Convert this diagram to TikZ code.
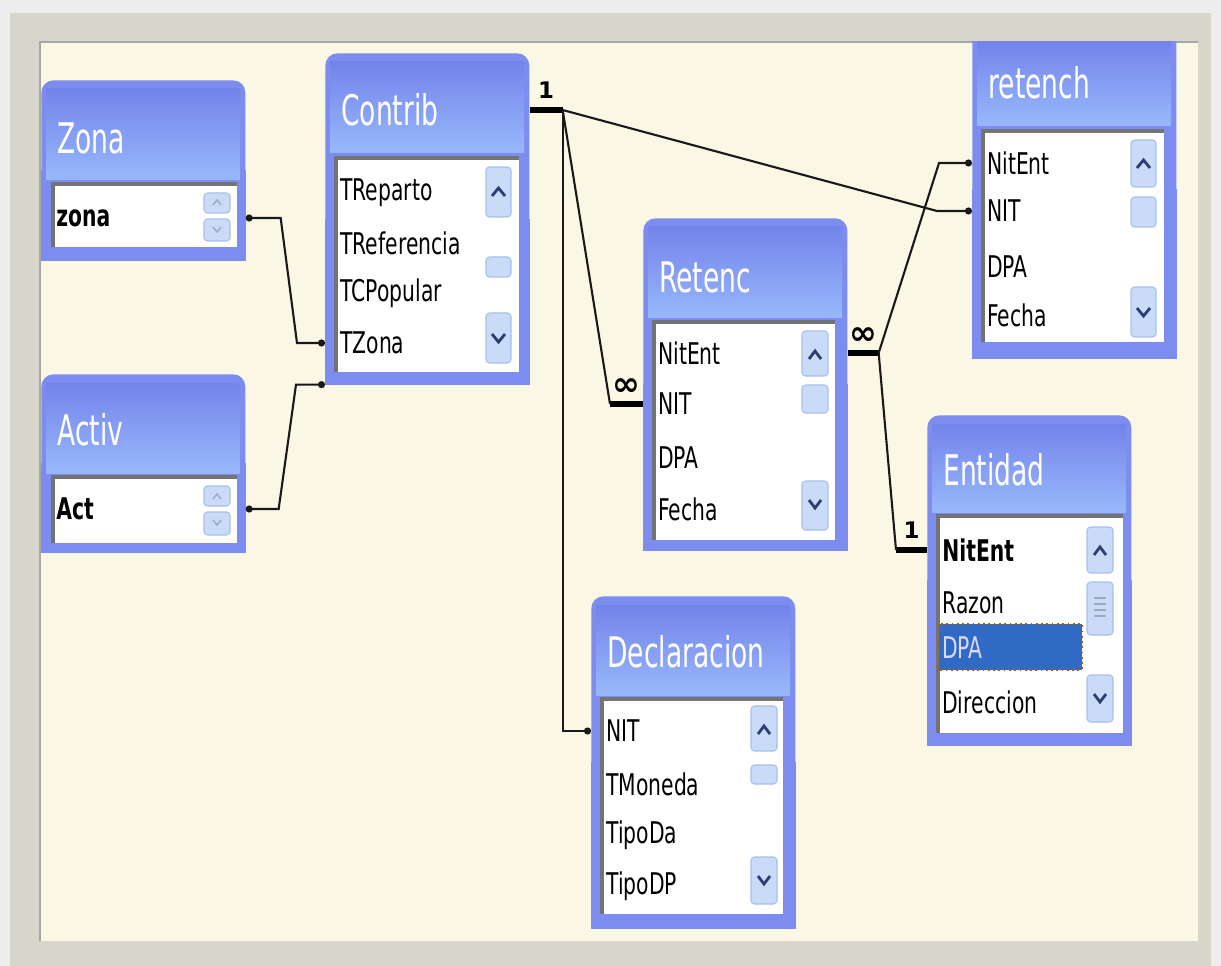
\documentclass[tikz,border=0pt]{standalone}
\usepackage{fontspec}
\usetikzlibrary{arrows.meta}
\newfontfamily\titlefont[FakeStretch=0.63]{DejaVu Sans}
\newfontfamily\fieldfont[FakeStretch=0.68]{DejaVu Sans}
\newfontfamily\cardfont{DejaVu Sans}
\definecolor{canvas}{HTML}{FAF7E5}
\definecolor{framegray}{HTML}{D8D5CB}
\definecolor{tblblue}{HTML}{7C8DEF}
\definecolor{ttltop}{HTML}{7384EA}
\definecolor{ttlbot}{HTML}{98B8FB}
\definecolor{btnfill}{HTML}{C9DBF6}
\definecolor{btnline}{HTML}{A6C0EC}
\definecolor{arrowblue}{HTML}{2C3E74}
\definecolor{selblue}{HTML}{316AC5}

\begin{document}
\begin{tikzpicture}[x=0.02cm, y=-0.02cm,
  tbl/.style={fill=tblblue, rounded corners=0.24cm, minimum width=4.08cm, anchor=north west, inner sep=0pt},
  ttl/.style={font=\titlefont\fontsize{24}{24}\selectfont, text=white, anchor=west, inner xsep=0.32cm, inner ysep=0pt, text width=3.44cm, align=left},
  fld/.style={font=\fieldfont\fontsize{17}{17}\selectfont, anchor=west, inner xsep=0.3cm, inner ysep=0pt, text width=3.48cm, align=left},
  lst/.style={fill=white},
  inset/.style={draw=black!55, line width=2pt},
  btn/.style={fill=btnfill, draw=btnline, line width=0.6pt, rounded corners=2pt},
  chev/.style={draw=arrowblue, line width=1.6pt},
  small/.style={draw=arrowblue!45, line width=0.8pt},
  rel/.style={draw=black!90, line width=1.2pt},
  stub/.style={draw=black, line width=3.4pt},
  card/.style={font=\cardfont\bfseries\fontsize{13}{13}\selectfont, inner sep=1pt},
  many/.style={font=\cardfont\bfseries\fontsize{19}{19}\selectfont, inner sep=0pt}]
\useasboundingbox (0,0) rectangle (1221,966);

% window frame
\fill[black!7] (0,0) rectangle (1221,966);
\fill[framegray] (10,13) rectangle (1211,966);
\fill[canvas] (40,42) rectangle (1198,941);
\draw[black!35, line width=1.5pt] (40,941) -- (40,42) -- (1198,42);

\begin{scope}
\clip (40,42) rectangle (1198,941);

% Zona
\path (41,80) node[tbl, minimum height=3.6cm] (zonaBox) {};
\fill[tblblue] (zonaBox.west) rectangle (zonaBox.south east);
\shade[top color=ttltop, bottom color=ttlbot] (46,89) rectangle (240,180);
\fill[lst] (52,183) rectangle (237,247);
\draw[inset] (53,247) -- (53,184) -- (237,184);
\path (41,138) node[ttl] (zona) {Zona};
\draw[btn] (204,193) rectangle (230,213);
\draw[btn] (204,219) rectangle (230,241);
\draw[small] (213,205) -- (217,200) -- (221,205);
\draw[small] (213,227) -- (217,232) -- (221,227);
\path (41,218) node[fld] (zonaF) {\bfseries zona};

% Activ
\path (41,374) node[tbl, minimum height=3.56cm] (activBox) {};
\fill[tblblue] (activBox.west) rectangle (activBox.south east);
\shade[top color=ttltop, bottom color=ttlbot] (46,383) rectangle (240,473);
\fill[lst] (52,476) rectangle (237,543);
\draw[inset] (53,543) -- (53,477) -- (237,477);
\path (41,430) node[ttl] (activ) {Activ};
\draw[btn] (204,486) rectangle (230,506);
\draw[btn] (204,512) rectangle (230,535);
\draw[small] (213,499) -- (217,494) -- (221,499);
\draw[small] (213,520) -- (217,525) -- (221,520);
\path (41,509) node[fld] (activF) {\bfseries Act};

% Contrib
\path (325,53) node[tbl, minimum height=6.62cm] (contribBox) {};
\fill[tblblue] (contribBox.west) rectangle (contribBox.south east);
\shade[top color=ttltop, bottom color=ttlbot] (330,62) rectangle (524,153);
\fill[lst] (335,157) rectangle (519,372);
\draw[inset] (336,372) -- (336,158) -- (519,158);
\path (325,110) node[ttl] (contrib) {Contrib};
\draw[btn] (486,167) rectangle (511,217);
\draw[btn] (486,257) rectangle (511,277);
\draw[btn] (486,313) rectangle (511,363);
\draw[chev] (492,196) -- (498.5,188) -- (505,196);
\draw[chev] (492,334) -- (498.5,342) -- (505,334);
\path (325,193) node[fld] (contribTReparto) {TReparto}
      (325,243) node[fld] (contribTReferencia) {TReferencia}
      (325,293) node[fld] (contribTCPopular) {TCPopular}
      (325,343) node[fld] (contribTZona) {TZona};

% retench
\path (972,20) node[tbl, minimum height=6.76cm] (retenchBox) {};
\fill[tblblue] (retenchBox.west) rectangle (retenchBox.south east);
\shade[top color=ttltop, bottom color=ttlbot] (977,42) rectangle (1171,126);
\fill[lst] (982,130) rectangle (1164,342);
\draw[inset] (983,342) -- (983,131) -- (1164,131);
\path (972,83) node[ttl] (retench) {retench};
\draw[btn] (1131,140) rectangle (1156,187);
\draw[btn] (1131,197) rectangle (1156,227);
\draw[btn] (1131,287) rectangle (1156,337);
\draw[chev] (1137,168) -- (1143.5,160) -- (1150,168);
\draw[chev] (1137,308) -- (1143.5,316) -- (1150,308);
\path (972,163) node[fld] (retenchNitEnt) {NitEnt}
      (972,211) node[fld] (retenchNIT) {NIT}
      (972,267) node[fld] (retenchDPA) {DPA}
      (972,315) node[fld] (retenchFecha) {Fecha};

% Retenc
\path (643,218) node[tbl, minimum height=6.64cm] (retencBox) {};
\fill[tblblue] (retencBox.west) rectangle (retencBox.south east);
\shade[top color=ttltop, bottom color=ttlbot] (648,227) rectangle (842,318);
\fill[lst] (653,321) rectangle (835,540);
\draw[inset] (654,540) -- (654,322) -- (835,322);
\path (643,277) node[ttl] (retenc) {Retenc};
\draw[btn] (802,331) rectangle (828,376);
\draw[btn] (802,385) rectangle (828,413);
\draw[btn] (802,481) rectangle (828,530);
\draw[chev] (809,359) -- (815,351) -- (821,359);
\draw[chev] (809,500) -- (815,508) -- (821,500);
\path (643,353) node[fld] (retencNitEnt) {NitEnt}
      (643,404) node[fld] (retencNIT) {NIT}
      (643,458) node[fld] (retencDPA) {DPA}
      (643,509) node[fld] (retencFecha) {Fecha};

% Entidad
\path (927,415) node[tbl, minimum height=6.6cm] (entidadBox) {};
\fill[tblblue] (entidadBox.west) rectangle (entidadBox.south east);
\shade[top color=ttltop, bottom color=ttlbot] (932,424) rectangle (1126,512);
\fill[lst] (937,515) rectangle (1123,733);
\draw[inset] (938,733) -- (938,516) -- (1123,516);
\path (927,470) node[ttl] (entidad) {Entidad};
\fill[selblue] (939,624) rectangle (1082,670);
\draw[orange!70!black, dotted, line width=1pt] (939,624) rectangle (1082,670);
\draw[btn] (1087,527) rectangle (1113,573);
\draw[btn] (1087,582) rectangle (1113,635);
\draw[btn] (1087,675) rectangle (1113,722);
\draw[small] (1094,598) -- (1106,598) (1094,604) -- (1106,604)
      (1094,610) -- (1106,610) (1094,616) -- (1106,616);
\draw[chev] (1094,555) -- (1100,547) -- (1106,555);
\draw[chev] (1094,694) -- (1100,702) -- (1106,694);
\path (927,550) node[fld] (entidadNitEnt) {\bfseries NitEnt}
      (927,603) node[fld] (entidadRazon) {Razon}
      (927,648) node[fld, text=white!85!blue] (entidadDPA) {DPA}
      (927,702) node[fld] (entidadDireccion) {Direccion};

% Declaracion
\path (591,596) node[tbl, minimum height=6.64cm] (declBox) {};
\fill[tblblue] (declBox.west) rectangle (declBox.south east);
\shade[top color=ttltop, bottom color=ttlbot] (596,605) rectangle (790,695);
\fill[lst] (601,698) rectangle (783,914);
\draw[inset] (602,914) -- (602,699) -- (783,699);
\path (591,652) node[ttl] (decl) {Declaracion};
\draw[btn] (751,706) rectangle (777,751);
\draw[btn] (751,765) rectangle (777,784);
\draw[btn] (751,857) rectangle (777,904);
\draw[chev] (758,734) -- (764,726) -- (770,734);
\draw[chev] (758,876) -- (764,884) -- (770,876);
\path (591,731) node[fld] (declNIT) {NIT}
      (591,784) node[fld] (declTMoneda) {TMoneda}
      (591,835) node[fld] (declTipoDa) {TipoDa}
      (591,886) node[fld] (declTipoDP) {TipoDP};
\end{scope}

% relationships
\draw[rel, {Circle[length=4pt]}-{Circle[length=4pt]}] (zonaF.east) -- ++(35,0)
  -- ([xshift=-0.56cm]contribTZona.west) -- (contribTZona.west);
\draw[rel, {Circle[length=4pt]}-{Circle[length=4pt]}] (activF.east) -- ++(33,0)
  -- ([xshift=-0.58cm]contribBox.south west) -- (contribBox.south west);

\draw[stub] (contrib.east) -- ++(33,0) node[midway, card, above=4pt] (contribOne) {1} coordinate (contribJ);
\draw[rel, -{Circle[length=4pt]}] (contribJ) |- (declNIT.west);
\draw[stub] (retencNIT.west) -- ++(-33,0) node[midway, many, above=3pt] (retencMany1) {∞} coordinate (retencJ1);
\draw[rel] (contribJ) -- (retencJ1);
\draw[rel, {Circle[length=4pt]}-] (retenchNIT.west) -- ++(-35,0) -- (contribJ);

\draw[stub] (retencNitEnt.east) -- ++(31,0) node[midway, many, above=3pt] (retencMany2) {∞} coordinate (retencJ2);
\draw[rel, {Circle[length=4pt]}-] (retenchNitEnt.west) -- ++(-33,0) -- (retencJ2);
\draw[stub] (entidadNitEnt.west) -- ++(-31,0) node[midway, card, above=4pt] (entidadOne) {1} coordinate (entidadJ);
\draw[rel] (retencJ2) -- (entidadJ);
\end{tikzpicture}
\end{document}
